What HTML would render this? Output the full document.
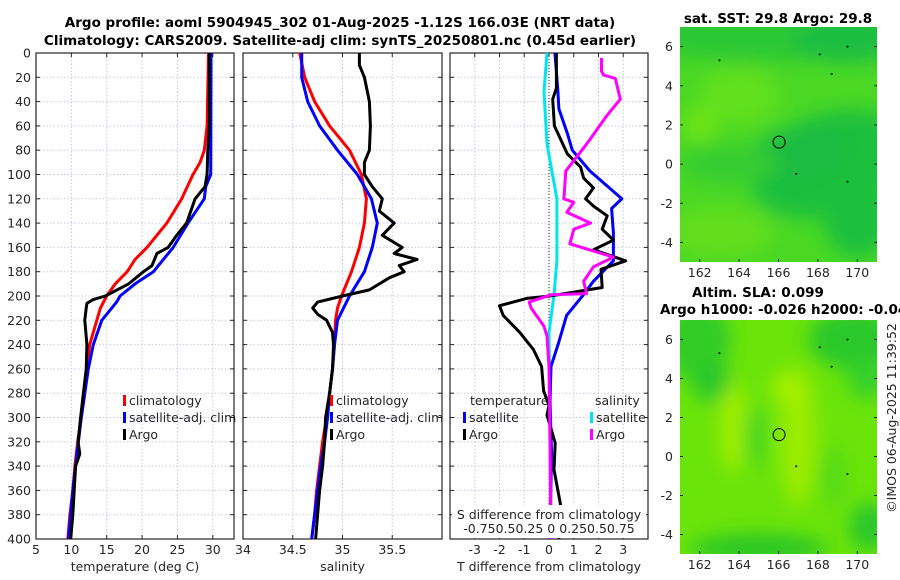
<!DOCTYPE html>
<html><head><meta charset="utf-8"><style>
html,body{margin:0;padding:0;background:#fff;}
svg{display:block;font-family:"DejaVu Sans","Liberation Sans",sans-serif;}
text{fill:#262626;}
.t{font-weight:bold;font-size:13.5px;fill:#000;}
.tk{font-size:12.5px;}
</style></head><body>
<svg id="c" width="900" height="580" viewBox="0 0 900 580" xmlns="http://www.w3.org/2000/svg">
<defs>
<filter id="bl" x="-50%" y="-50%" width="200%" height="200%"><feGaussianBlur stdDeviation="9"/></filter>
<clipPath id="m1c"><rect x="680" y="27" width="197" height="235"/></clipPath>
<clipPath id="m2c"><rect x="680" y="320" width="197" height="234"/></clipPath>
</defs>
<text class="t" x="340" y="27" text-anchor="middle">Argo profile: aoml 5904945_302 01-Aug-2025 -1.12S 166.03E (NRT data)</text>
<text class="t" x="340" y="45" text-anchor="middle">Climatology: CARS2009. Satellite-adj clim: synTS_20250801.nc (0.45d earlier)</text>
<g id="g"></g>
</svg>
<script>
// ---- depth axis ----
const depthTicks = [0,20,40,60,80,100,120,140,160,180,200,220,240,260,280,300,320,340,360,380,400];
// ---- temperature panel ----
const tempTicks = [5,10,15,20,25,30];
const climTDepth = [0,60,80,90,100,120,140,160,170,180,190,200,210,220,240,260,280,300,320,340,360,380,400];
const climT = [29.4,29.2,28.8,28.2,27.2,25.6,23.5,20.7,19.0,17.9,16.2,15.0,14.1,13.6,12.6,12.2,11.9,11.4,10.9,10.5,10.2,9.8,9.5];
const satTDepth = [0,100,110,120,140,160,180,190,200,205,220,240,260,280,300,320,340,360,380,400];
const satT = [29.75,29.7,29.0,28.8,26.5,24.4,21.6,19.0,16.9,16.4,14.3,13.1,12.4,11.9,11.4,11.0,10.6,10.2,9.9,9.6];
const argoTDepth = [0,60,80,100,110,120,140,150,160,165,175,180,190,200,203,206,210,220,240,260,280,300,320,330,340,360,380,400];
const argoT = [29.5,29.5,29.3,29.2,28.9,27.5,26.3,24.9,23.7,22.1,21.4,20.2,18.1,14.8,13.1,12.2,12.1,11.9,12.2,12.1,11.7,11.3,10.96,11.2,10.6,10.4,10.2,9.9];
// ---- salinity panel ----
const salTicks = [34,34.5,35,35.5];
const salTickLabels = ["34","34.5","35","35.5"];
const climSDepth = [0,20,40,60,80,100,120,140,160,180,200,210,220,240,260,280,300,320,340,360,380,400];
const climS = [34.57,34.62,34.72,34.87,35.07,35.19,35.24,35.22,35.17,35.09,34.99,34.95,34.93,34.92,34.9,34.87,34.84,34.8,34.77,34.74,34.72,34.69];
const satSDepth = [0,20,40,60,80,100,120,140,160,180,200,220,240,260,280,300,320,340,360,380,400];
const satS = [34.59,34.59,34.65,34.77,34.95,35.15,35.29,35.35,35.3,35.22,35.07,34.95,34.92,34.9,34.87,34.85,34.82,34.78,34.75,34.72,34.69];
const argoSDepth = [0,10,20,40,60,80,90,100,110,120,130,140,150,160,165,170,175,180,185,190,195,200,205,210,215,220,230,240,260,280,300,320,340,360,380,400];
const argoS = [35.17,35.17,35.22,35.27,35.28,35.27,35.22,35.22,35.3,35.4,35.37,35.52,35.4,35.6,35.52,35.75,35.57,35.62,35.47,35.37,35.27,35.0,34.75,34.7,34.75,34.84,34.9,34.91,34.9,34.87,34.83,34.82,34.8,34.77,34.75,34.73];
// ---- difference panel ----
const dTTicks = [-3,-2,-1,0,1,2,3];
const satDTDepth = [0,29,46,66,80,97,120,128,148,171,188,199,216,239,258,287,329,400];
const satDT = [0.24,0.35,0.4,0.74,0.94,1.65,2.94,2.53,2.6,2.6,1.79,1.39,0.71,0.38,0.08,0.04,0.1,0.04];
const argoDTDepth = [0,29,38,60,83,94,103,111,120,126,134,145,154,162,171,178,193,200,202,208,216,230,244,258,278,290,298,321,343,372,400];
const argoDT = [0.3,0.3,0.15,0.22,0.74,1.28,1.4,1.8,1.48,1.8,2.35,2.15,2.6,1.8,3.1,2.1,2.15,0.05,-0.9,-2.0,-1.85,-1.18,-0.63,-0.3,-0.22,0,-0.08,0.25,0.2,0.47,0.4];
const satDSDepth = [0,32,75,120,171,199,230,300,400];
const satDS = [-0.02,-0.05,-0.02,0.08,0.08,0.05,0,0.01,0.02];
const argoDSDepth = [4,15,18,21,38,52,75,97,120,123,131,140,145,157,168,176,188,198,199,205,210,225,233,258,320,400];
const argoDS = [0.53,0.53,0.55,0.67,0.72,0.58,0.38,0.17,0.15,0.25,0.18,0.42,0.25,0.21,0.65,0.45,0.35,0.38,0.02,-0.2,-0.18,-0.05,-0.02,0,0.01,0.02];
// ---- map axes ----
const lonTicks = [162,164,166,168,170];
const latTicks = [6,4,2,0,-2,-4];
const argoLon = 166.03, argoLat = 1.12;

const NS='http://www.w3.org/2000/svg';
const G=document.getElementById('g');
function el(tag,attrs,parent,txt){const e=document.createElementNS(NS,tag);for(const k in attrs)e.setAttribute(k,attrs[k]);if(txt!==undefined)e.textContent=txt;(parent||G).appendChild(e);return e;}
const Y0=53,Y1=539;
const yD=d=>Y0+(d/400)*(Y1-Y0);
const xT=v=>36+(v-5)/(33-5)*(234-36);
const xS=v=>243+(v-34)/(36-34)*(442-243);
const xDT=v=>549+v*24.75;
const xDS=v=>549+v*99;
const gridStyle={stroke:'#c5c9e6','stroke-width':1,'stroke-dasharray':'1.5,2'};

function panel(name,x0,x1,ticks,xf,labels,xlabel,showY){
  const g=el('g',{});
  
  
  depthTicks.forEach(d=>{el('line',Object.assign({x1:x0,x2:x1,y1:yD(d),y2:yD(d)},gridStyle),g);});
  ticks.forEach(t=>{el('line',Object.assign({x1:xf(t),x2:xf(t),y1:Y0,y2:Y1},gridStyle),g);});
  el('rect',{x:x0,y:Y0,width:x1-x0,height:Y1-Y0,fill:'none',stroke:'#262626','stroke-width':1.2},g);
  depthTicks.forEach(d=>{el('line',{x1:x0,x2:x0+4,y1:yD(d),y2:yD(d),stroke:'#262626'},g);el('line',{x1:x1,x2:x1-4,y1:yD(d),y2:yD(d),stroke:'#262626'},g);
    if(showY){const t=el('text',{x:x0-5,y:yD(d)+4.5,'text-anchor':'end',class:'tk'},g,String(d));}});
  ticks.forEach((t,i)=>{el('line',{x1:xf(t),x2:xf(t),y1:Y1,y2:Y1-4,stroke:'#262626'},g);el('line',{x1:xf(t),x2:xf(t),y1:Y0,y2:Y0+4,stroke:'#262626'},g);
    if(labels){const tx=el('text',{x:xf(t),y:Y1+15,'text-anchor':'middle',class:'tk'},g,labels[i]);}});
  const xl=el('text',{x:(x0+x1)/2,y:571,'text-anchor':'middle',class:'tk'},g,xlabel);
  
  
  return g;
}
function series(g,name,depths,vals,xf,color){
  const pts=depths.map((d,i)=>xf(vals[i]).toFixed(1)+','+yD(d).toFixed(1)).join(' ');
  const p=el('polyline',{points:pts,fill:'none',stroke:color,'stroke-width':3,'stroke-linejoin':'round'},g);
  
  
}
function legend(g,x,y,color,label,name){
  el('rect',{x:x,y:y-10,width:3,height:11,fill:color},g);
  const t=el('text',{x:x+6,y:y,class:'tk'},g,label);
  
  
}
const p1=panel('temperature-panel',36,234,tempTicks,xT,tempTicks.map(String),'temperature (deg C)',true);
series(p1,'temp-climatology-line',climTDepth,climT,xT,'#ff0000');
series(p1,'temp-satellite-line',satTDepth,satT,xT,'#0000ff');
series(p1,'temp-argo-line',argoTDepth,argoT,xT,'#000000');
legend(p1,123,405,'#ff0000','climatology','legend-climatology');
legend(p1,123,422,'#0000ff','satellite-adj. clim','legend-satellite');
legend(p1,123,439,'#000000','Argo','legend-argo');
const p2=panel('salinity-panel',243,442,salTicks,xS,salTickLabels,'salinity',false);
series(p2,'sal-climatology-line',climSDepth,climS,xS,'#ff0000');
series(p2,'sal-satellite-line',satSDepth,satS,xS,'#0000ff');
series(p2,'sal-argo-line',argoSDepth,argoS,xS,'#000000');
legend(p2,330,405,'#ff0000','climatology','legend-climatology');
legend(p2,330,422,'#0000ff','satellite-adj. clim','legend-satellite');
legend(p2,330,439,'#000000','Argo','legend-argo');
const p3=panel('difference-panel',450,648,dTTicks,xDT,dTTicks.map(String),'T difference from climatology',false);
el('line',{x1:xDT(0),x2:xDT(0),y1:Y0,y2:Y1,stroke:'#333','stroke-width':1,'stroke-dasharray':'1,2'},p3);
series(p3,'sal-diff-satellite-line',satDSDepth,satDS,xDS,'#00e5ee');
series(p3,'temp-diff-satellite-line',satDTDepth,satDT,xDT,'#0000ff');
series(p3,'temp-diff-argo-line',argoDTDepth,argoDT,xDT,'#000000');
series(p3,'sal-diff-argo-line',argoDSDepth,argoDS,xDS,'#ff00ff');
el('text',{x:470,y:405,class:'tk'},p3,'temperature');
el('text',{x:595,y:405,class:'tk'},p3,'salinity');
legend(p3,463,422,'#0000ff','satellite','legend-temp-satellite');
legend(p3,463,439,'#000000','Argo','legend-temp-argo');
legend(p3,590,422,'#00e5ee','satellite','legend-sal-satellite');
legend(p3,590,439,'#ff00ff','Argo','legend-sal-argo');
el('rect',{x:452,y:505,width:194,height:33,fill:'#fff'},p3);
el('text',{x:549,y:519,'text-anchor':'middle',class:'tk'},p3,'S difference from climatology');
el('text',{x:549,y:533,'text-anchor':'middle',class:'tk'},p3,'-0.750.50.25 0 0.250.50.75');

const MX0=680,MX1=877;
const xL=l=>MX0+(l-161)/(171-161)*(MX1-MX0);
function map(name,yTop,yBot,base,blobs,clip){
  const yLat=v=>yTop+(7-v)/12*(yBot-yTop);
  const g=el('g',{});
  
  
  const inner=el('g',{'clip-path':'url(#'+clip+')'},g);
  el('rect',{x:MX0,y:yTop,width:MX1-MX0,height:yBot-yTop,fill:base},inner);
  const bg=el('g',{filter:'url(#bl)'},inner);
  blobs.forEach(b=>el('ellipse',{cx:xL(b[0]),cy:yLat(b[1]),rx:b[2],ry:b[3],fill:b[4],transform:'rotate('+(b[5]||0)+' '+xL(b[0])+' '+yLat(b[1])+')'},bg));
  [[163,5.3],[168.1,5.6],[168.7,4.6],[169.5,6],[166.9,-0.5],[169.5,-0.9]].forEach(p=>el('circle',{cx:xL(p[0]),cy:yLat(p[1]),r:1,fill:'#000'},inner));
  const c=el('circle',{cx:xL(argoLon),cy:yLat(argoLat),r:6,fill:'none',stroke:'#000','stroke-width':1},g);
  
  
  lonTicks.forEach(l=>{el('line',{x1:xL(l),x2:xL(l),y1:yBot,y2:yBot-3,stroke:'#262626'},g);
    const t=el('text',{x:xL(l),y:yBot+15,'text-anchor':'middle',class:'tk'},g,String(l));});
  latTicks.forEach(l=>{el('line',{x1:MX0,x2:MX0+3,y1:yLat(l),y2:yLat(l),stroke:'#262626'},g);el('line',{x1:MX1,x2:MX1-3,y1:yLat(l),y2:yLat(l),stroke:'#262626'},g);
    const t=el('text',{x:MX0-7,y:yLat(l)+4.5,'text-anchor':'end',class:'tk'},g,String(l));});
  return g;
}
map('sst-map',27,262,'#4ad824',[
  [166,6.6,160,26,'#2cc836'],[169.5,6.3,55,22,'#1ebe42'],
  [168.5,0,80,50,'#1ec03e',-20],[167,0.5,50,28,'#1cbc42',-10],[163.5,0,50,18,'#34cc32'],
  [170,-2.5,35,45,'#1ec03e'],[164,3.5,40,28,'#62e01a'],[163,-3.5,55,25,'#62de1a'],[162,2,18,18,'#6ce418']
],'m1c');
el('text',{class:'t',x:778,y:23,'text-anchor':'middle','font-size':'13.5'},G,'sat. SST: 29.8 Argo: 29.8');
map('sla-map',320,554,'#6be40a',[
  [161.8,6,35,40,'#30cc28'],[162.6,3.8,20,20,'#2cc82a'],[169.8,6,45,30,'#2cc82a'],[170.5,4,20,20,'#36d02a'],
  [163.7,1.5,14,45,'#9eee00'],[167,1,18,70,'#9cec00'],[166.5,3.5,16,18,'#a4f000'],
  [165,-4.7,70,14,'#2ac628'],[170.6,-3.6,20,24,'#2cc82a'],[164.8,1,10,30,'#40d420'],[168.8,-1,12,30,'#54da16']
],'m2c');
el('text',{class:'t',x:758,y:297,'text-anchor':'middle'},G,'Altim. SLA: 0.099');
el('text',{class:'t',x:660,y:314},G,'Argo h1000: -0.026 h2000: -0.04');
const cr=el('text',{x:0,y:0,class:'tk',transform:'translate(896,418) rotate(-90)','text-anchor':'middle'},G,'\u00A9IMOS 06-Aug-2025 11:39:52');


</script>
</body></html>
